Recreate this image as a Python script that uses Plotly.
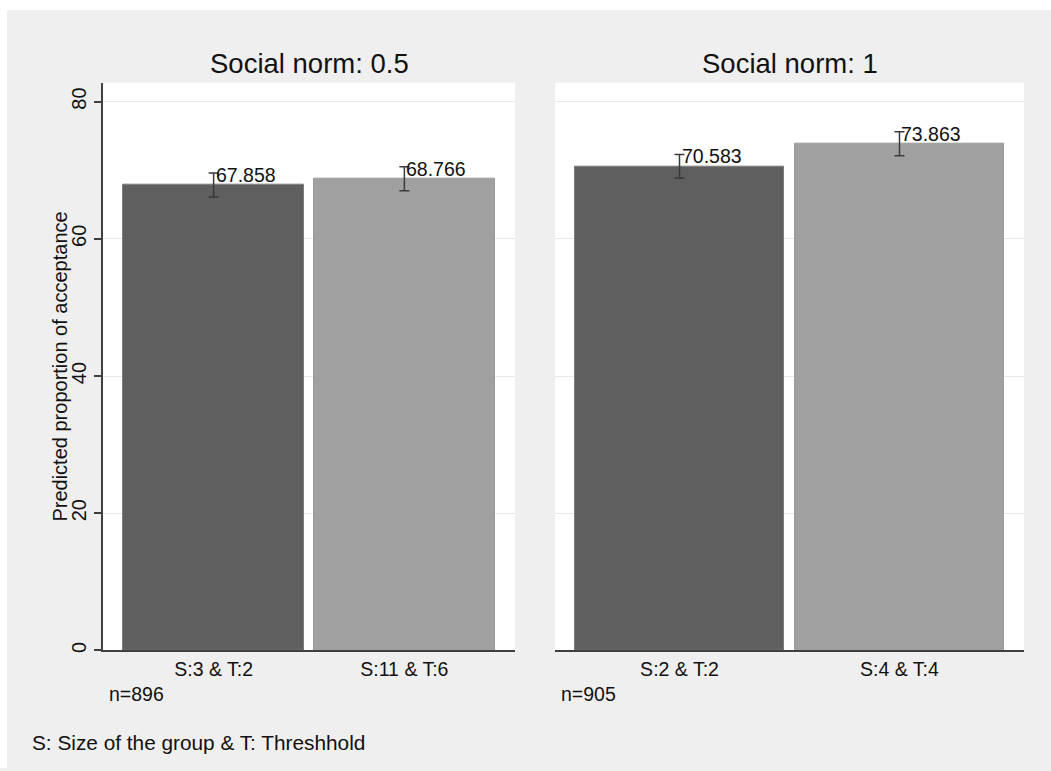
import plotly.graph_objects as go

# Predicted proportion of acceptance by group size (S) and threshold (T)
panel_titles = ["Social norm: 0.5", "Social norm: 1"]
cats_norm05 = ["S:3 & T:2", "S:11 & T:6"]
cats_norm1 = ["S:2 & T:2", "S:4 & T:4"]
pred_norm05 = [67.858, 68.766]
pred_norm1 = [70.583, 73.863]
ci_half_norm05 = [1.75, 1.75]
ci_half_norm1 = [1.7, 1.75]
n_obs = ["n=896", "n=905"]
y_ticks = [0, 20, 40, 60, 80]
footnote = "S: Size of the group & T: Threshhold"
y_title = "Predicted proportion of acceptance"

W, H = 1051, 771
FONT = "Arial, 'Liberation Sans', sans-serif"
bar_colors = ["#5f5f5f", "#a0a0a0"]
edge_colors = ["#7d7d7d", "#9a9a9a"]


def px_x(p):
    return p / W


def px_y(p):
    return 1 - p / H


dom_left = [px_x(103), px_x(515)]
dom_right = [px_x(555), px_x(1024)]
dom_y = [px_y(653), px_y(83)]

fig = go.Figure()

panels = [
    ("x", "y", cats_norm05, pred_norm05, ci_half_norm05),
    ("x2", "y2", cats_norm1, pred_norm1, ci_half_norm1),
]
for xa, ya, cats, vals, ci in panels:
    fig.add_trace(go.Bar(
        x=cats, y=vals, xaxis=xa, yaxis=ya, width=0.95,
        marker=dict(color=bar_colors, line=dict(color=edge_colors, width=1)),
        error_y=dict(type="data", array=ci, symmetric=True,
                     color="#3a3a3a", thickness=1.5, width=5),
        hoverinfo="skip", showlegend=False,
    ))
    for c, v in zip(cats, vals):
        fig.add_annotation(
            x=c, y=v, xref=xa, yref=ya, text=f"{v:.3f}",
            xanchor="left", yanchor="bottom", xshift=0, yshift=-3,
            showarrow=False, font=dict(family=FONT, size=19.5, color="#111"),
        )

axis_common = dict(
    showgrid=False, zeroline=False, showline=True,
    linecolor="#404040", linewidth=1.5, ticks="",
    tickfont=dict(family=FONT, size=19.5, color="#111"),
    fixedrange=True,
)
fig.update_layout(
    width=W, height=H,
    margin=dict(l=0, r=0, t=0, b=0, pad=0),
    paper_bgcolor="#efefef", plot_bgcolor="#ffffff",
    bargap=0,
    xaxis=dict(domain=dom_left, anchor="y", range=[-0.58, 1.58], **axis_common),
    xaxis2=dict(domain=dom_right, anchor="y2", range=[-0.566, 1.566], **axis_common),
    yaxis=dict(
        domain=dom_y, anchor="x", range=[0, 82.76],
        tickvals=y_ticks, tickangle=-90, ticks="outside", ticklen=7,
        tickcolor="#404040", tickwidth=1.5,
        showline=True, linecolor="#404040", linewidth=1.5,
        showgrid=True, gridcolor="#e8e8e8", gridwidth=1, zeroline=False,
        tickfont=dict(family=FONT, size=20, color="#111"),
        fixedrange=True,
    ),
    yaxis2=dict(
        domain=dom_y, anchor="x2", range=[0, 82.76],
        tickvals=y_ticks, showticklabels=False, ticks="",
        showline=False, showgrid=True, gridcolor="#e8e8e8", gridwidth=1,
        zeroline=False, fixedrange=True,
    ),
)

# white strips around the outer gray frame
fig.add_shape(type="rect", xref="paper", yref="paper", x0=0, x1=1,
              y0=px_y(10), y1=1, fillcolor="#ffffff", line_width=0, layer="below")
fig.add_shape(type="rect", xref="paper", yref="paper", x0=0, x1=px_x(7),
              y0=0, y1=1, fillcolor="#ffffff", line_width=0, layer="below")

# panel titles
for title, dom in zip(panel_titles, [dom_left, dom_right]):
    fig.add_annotation(x=(dom[0] + dom[1]) / 2, y=px_y(64), xref="paper", yref="paper",
                       text=title, showarrow=False, xanchor="center", yanchor="middle",
                       font=dict(family=FONT, size=27.5, color="#111"))

# sample sizes under each panel
for label, x0 in zip(n_obs, [107, 559]):
    fig.add_annotation(x=px_x(x0), y=px_y(697), xref="paper", yref="paper",
                       text=label, showarrow=False, xanchor="left", yanchor="middle",
                       font=dict(family=FONT, size=19.5, color="#111"))

# y-axis title
fig.add_annotation(x=px_x(60), y=(dom_y[0] + dom_y[1]) / 2, xref="paper", yref="paper",
                   text=y_title, textangle=-90, showarrow=False,
                   xanchor="center", yanchor="middle",
                   font=dict(family=FONT, size=20, color="#111"))

# footnote
fig.add_annotation(x=px_x(30), y=px_y(745), xref="paper", yref="paper",
                   text=footnote, showarrow=False, xanchor="left", yanchor="middle",
                   font=dict(family=FONT, size=20.8, color="#111"))

fig.write_html("out.html")
